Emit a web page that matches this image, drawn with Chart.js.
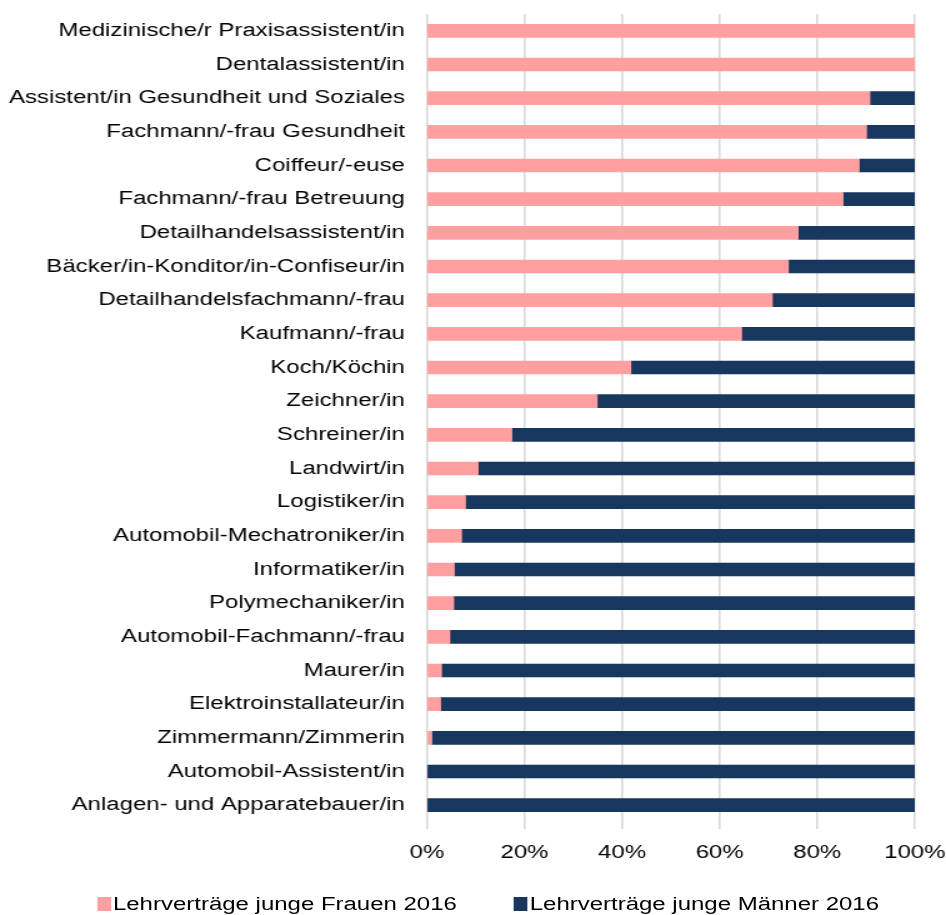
<!DOCTYPE html>
<html>
<head>
<meta charset="utf-8">
<script src="https://cdn.jsdelivr.net/npm/chart.js@4"></script>
<style>
  html, body { margin: 0; padding: 0; background: #fff; overflow: hidden; }
  /* the original chart is stretched horizontally, so the whole block is drawn narrow and scaled */
  #wrap { position: relative; width: 757px; height: 915px; transform: scaleX(1.2497); transform-origin: 0 0; }
  #legend { position: absolute; left: 77.6px; top: 892px; height: 23px; line-height: 23px;
            font-family: 'Liberation Sans', Arial, sans-serif; font-size: 19.2px; color: #000; white-space: nowrap; }
  #legend span.box { display: inline-block; width: 11.2px; height: 14px; vertical-align: -1px; margin-right: 1.6px; }
  #legend span.item + span.item { margin-left: 45.5px; }
</style>
</head>
<body>
<div id="wrap">
  <canvas id="lehrChart" width="757" height="878"></canvas>
  <div id="legend"></div>
</div>
<script>
const berufe = [
    "Medizinische/r Praxisassistent/in",
    "Dentalassistent/in",
    "Assistent/in Gesundheit und Soziales",
    "Fachmann/-frau Gesundheit",
    "Coiffeur/-euse",
    "Fachmann/-frau Betreuung",
    "Detailhandelsassistent/in",
    "Bäcker/in-Konditor/in-Confiseur/in",
    "Detailhandelsfachmann/-frau",
    "Kaufmann/-frau",
    "Koch/Köchin",
    "Zeichner/in",
    "Schreiner/in",
    "Landwirt/in",
    "Logistiker/in",
    "Automobil-Mechatroniker/in",
    "Informatiker/in",
    "Polymechaniker/in",
    "Automobil-Fachmann/-frau",
    "Maurer/in",
    "Elektroinstallateur/in",
    "Zimmermann/Zimmerin",
    "Automobil-Assistent/in",
    "Anlagen- und Apparatebauer/in"
];
const frauen = [100, 100, 90.8, 90.1, 88.6, 85.3, 76.1, 74.1, 70.8, 64.5, 41.8, 34.9, 17.4, 10.5, 7.9, 7.1, 5.6, 5.5, 4.7, 3.0, 2.8, 1.0, 0, 0];
const maenner = [0, 0, 9.2, 9.9, 11.4, 14.7, 23.9, 25.9, 29.2, 35.5, 58.2, 65.1, 82.6, 89.5, 92.1, 92.9, 94.4, 94.5, 95.3, 97.0, 97.2, 99.0, 100, 100];
const xTicks = [0, 20, 40, 60, 80, 100];

const schrift = { family: "'Liberation Sans', Arial, sans-serif", size: 19.2 };

const chart = new Chart(document.getElementById("lehrChart"), {
    type: 'bar',
    data: {
        labels: berufe,
        datasets: [{
            label: 'Lehrverträge junge Frauen 2016',
            data: frauen,
            backgroundColor: '#ff9f9f',
            barThickness: 13
        }, {
            label: 'Lehrverträge junge Männer 2016',
            data: maenner,
            backgroundColor: '#17375e',
            barThickness: 13
        }]
    },
    options: {
        indexAxis: 'y',
        responsive: false,
        animation: false,
        layout: { padding: { top: 14, right: 25, bottom: 1, left: 0 } },
        plugins: {
            legend: { display: false },
            tooltip: { enabled: false }
        },
        scales: {
            x: {
                stacked: true,
                min: 0,
                max: 100,
                afterBuildTicks: axis => { axis.ticks = xTicks.map(v => ({ value: v })); },
                afterFit: scale => { scale.paddingLeft = 0; scale.paddingRight = 0; },
                grid: { color: '#d9d9d9', lineWidth: 1.6, tickLength: 7 },
                border: { display: false },
                ticks: {
                    color: '#000',
                    font: schrift,
                    padding: 12.5,
                    callback: v => v + '%'
                }
            },
            y: {
                stacked: true,
                afterFit: scale => {
                    scale.width = 341.6;
                    scale.paddingTop = 0;
                    scale.paddingBottom = 0;
                },
                grid: { display: false, tickLength: 0 },
                border: { display: false },
                ticks: { color: '#000', font: schrift, padding: 17.6, autoSkip: false }
            }
        }
    }
});

// legend as html so the gaps can match the original
const legend = document.getElementById('legend');
chart.data.datasets.forEach(ds => {
    const item = document.createElement('span');
    item.className = 'item';
    const box = document.createElement('span');
    box.className = 'box';
    box.style.background = ds.backgroundColor;
    item.appendChild(box);
    item.appendChild(document.createTextNode(ds.label));
    legend.appendChild(item);
});
</script>
</body>
</html>
